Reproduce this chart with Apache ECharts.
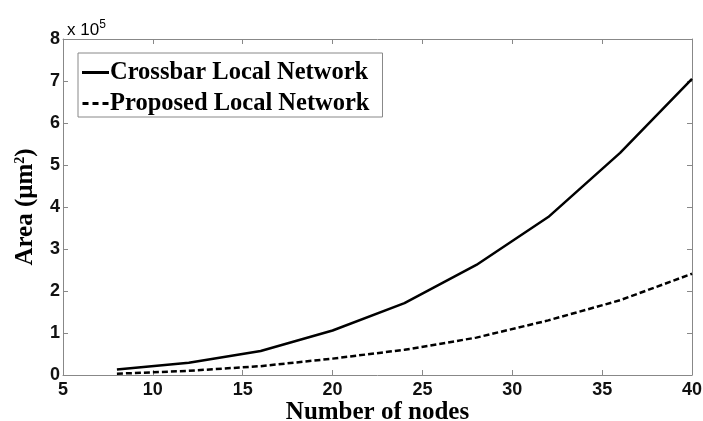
<!DOCTYPE html>
<html><head><meta charset="utf-8">
<script src="https://cdn.jsdelivr.net/npm/echarts@6/dist/echarts.min.js"></script>
<style>html,body{margin:0;padding:0;background:#fff}#c{width:703px;height:421px}</style>
</head><body><div id="c"></div>
<script>
const nodes = [8, 12, 16, 20, 24, 28, 32, 36, 40];
const crossbar = [0.13e5, 0.29e5, 0.57e5, 1.06e5, 1.71e5, 2.62e5, 3.76e5, 5.29e5, 7.05e5];
const proposed = [0.03e5, 0.1e5, 0.21e5, 0.39e5, 0.6e5, 0.89e5, 1.3e5, 1.78e5, 2.41e5];
const seriesNames = ['Crossbar Local Network', 'Proposed Local Network'];
const xTicks = {min: 5, max: 40, interval: 5};
const yTicks = {min: 0, max: 8e5, interval: 1e5};

const axisColor = '#888';
const tickFont = {fontFamily: 'Liberation Sans, Arial', fontSize: 18, fontWeight: 'bold', color: '#111'};
const titleFont = {fontFamily: 'Liberation Serif, Times New Roman', fontWeight: 'bold', fontSize: 25, color: '#000'};

const chart = echarts.init(document.getElementById('c'));
const mkX = (pos, show) => ({
  type: 'value', position: pos, min: xTicks.min, max: xTicks.max, interval: xTicks.interval,
  axisLine: {show: true, onZero: false, lineStyle: {color: axisColor, width: 1}},
  axisTick: {show: true, inside: true, length: 5, lineStyle: {color: axisColor}},
  axisLabel: {show: show, margin: 6, ...tickFont},
  splitLine: {show: false},
  name: show ? 'Number of nodes' : '', nameLocation: 'middle', nameGap: 25, nameMoveOverlap: false,
  nameTextStyle: titleFont
});
const mkY = (pos, show) => ({
  type: 'value', position: pos, min: yTicks.min, max: yTicks.max, interval: yTicks.interval,
  axisLine: {show: true, onZero: false, lineStyle: {color: axisColor, width: 1}},
  axisTick: {show: true, inside: true, length: 5, lineStyle: {color: axisColor}},
  axisLabel: {show: show, margin: 3, ...tickFont, formatter: v => String(v / 1e5)},
  splitLine: {show: false},
  name: show ? 'Area (μm{sup|2})' : '', nameLocation: 'middle', nameGap: 25, nameMoveOverlap: false,
  nameTextStyle: {...titleFont, fontSize: 25, rich: {sup: {...titleFont, fontSize: 14, verticalAlign: 'top', padding: [0,0,10,0]}}}
});
chart.setOption({
  animation: false,
  backgroundColor: '#fff',
  grid: {left: 63, right: 11, top: 39, bottom: 46, outerBoundsMode: 'none', containLabel: false},
  title: {
    text: 'x 10{sup|5}', left: 62, top: 14,
    textStyle: {fontFamily: 'Liberation Sans, Arial', fontSize: 17, fontWeight: 'normal', color: '#000',
      rich: {sup: {fontFamily: 'Liberation Sans, Arial', fontSize: 12, color: '#000', verticalAlign: 'top', padding: [0,0,10,0]}}}
  },
  legend: {
    orient: 'vertical', left: 78, top: 53,
    data: [
      {name: seriesNames[0], icon: 'rect'},
      {name: seriesNames[1], icon: 'path://M0,0h6v3h-6zM10,0h6v3h-6zM20,0h6v3h-6z'}
    ],
    itemWidth: 27, itemHeight: 3, itemGap: 6,
    padding: [7, 13, 1, 4],
    borderColor: axisColor, borderWidth: 1, backgroundColor: '#fff',
    textStyle: {...titleFont, fontSize: 24.5, padding: [0, 0, 0, -4]}
  },
  xAxis: [mkX('bottom', true), mkX('top', false)],
  yAxis: [mkY('left', true), mkY('right', false)],
  series: [
    {name: seriesNames[0], type: 'line', data: nodes.map((n, i) => [n, crossbar[i]]),
     symbol: 'none', lineStyle: {color: '#000', width: 2.5, type: 'solid'}, itemStyle: {color: '#000'}},
    {name: seriesNames[1], type: 'line', data: nodes.map((n, i) => [n, proposed[i]]),
     symbol: 'none', lineStyle: {color: '#000', width: 2.5, type: [6, 3]}, itemStyle: {color: '#000'}}
  ]
});
</script></body></html>
